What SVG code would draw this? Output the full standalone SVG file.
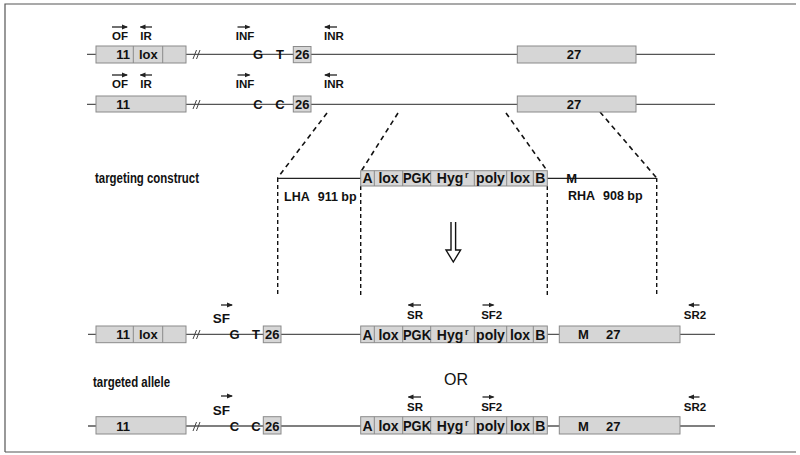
<svg xmlns="http://www.w3.org/2000/svg" width="800" height="455" viewBox="0 0 800 455">
<defs>
<style>
.ln{stroke:#555;stroke-width:1.3;fill:none}
.bx{fill:#d6d6d6;stroke:#8a8a8a;stroke-width:1}
.dv{stroke:#8a8a8a;stroke-width:1}
.t{font-family:"Liberation Sans",Arial,sans-serif;font-weight:bold;font-size:13px;fill:#111;text-anchor:middle}
.tc{font-family:"Liberation Sans",Arial,sans-serif;font-weight:bold;font-size:14px;fill:#111;text-anchor:middle}
.p{font-family:"Liberation Sans",Arial,sans-serif;font-weight:bold;font-size:11.5px;fill:#111;text-anchor:middle}
.sf{font-size:13.5px}
.sup{font-family:"Liberation Sans",Arial,sans-serif;font-weight:bold;font-size:9px;fill:#111}
.lb{font-family:"Liberation Sans",Arial,sans-serif;font-weight:bold;font-size:14px;fill:#111}
.sm{font-family:"Liberation Sans",Arial,sans-serif;font-weight:bold;font-size:12.5px;fill:#111}
.sl{stroke:#444;stroke-width:1}
.ar{stroke:#222;stroke-width:1.3;fill:none;marker-end:url(#ah)}
.dsh{stroke:#111;stroke-width:1.4;stroke-dasharray:4,3;fill:none}
.dgl{stroke:#111;stroke-width:1.6;stroke-dasharray:5,4;fill:none}
</style>
<marker id="ah" markerUnits="userSpaceOnUse" markerWidth="6" markerHeight="6" refX="5" refY="3" orient="auto"><path d="M0,0.5 L6,3 L0,5.5 z" fill="#222"/></marker>
</defs>
<rect x="0" y="0" width="800" height="455" fill="#fff"/>
<path d="M5,452 V4 H796 M5,452 H796" stroke="#555" stroke-width="1.2" fill="none"/>

<g id="connectors">
<path class="dgl" d="M327,113 L277.5,178"/>
<path class="dgl" d="M398,113 L360.7,172"/>
<path class="dgl" d="M506,113 L547.3,171"/>
<path class="dgl" d="M600,112 L656.7,178"/>
<path class="dsh" d="M277.7,178 V297"/>
<path class="dsh" d="M360.7,186 V297"/>
<path class="dsh" d="M547.3,186 V297"/>
<path class="dsh" d="M656.7,178 V297"/>
<path d="M451,222 V250 H446 L453.3,262 L460.6,250 H455.6 V222" fill="#fff" stroke="#111" stroke-width="1.4"/>
</g>

<g id="wt-allele-1">
<line class="ln" x1="87" y1="54.3" x2="715" y2="54.3"/>
<rect class="bx" x="96" y="46" width="90" height="17"/>
<line class="dv" x1="133.3" y1="46" x2="133.3" y2="63"/>
<line class="dv" x1="162.7" y1="46" x2="162.7" y2="63"/>
<text class="t" x="123" y="59">11</text>
<text class="t" x="148.3" y="59">lox</text>
<path class="sl" d="M193,59 L196.5,50 M196.5,59 L200,50"/>
<text class="t" x="258" y="59">G</text>
<text class="t" x="280" y="59">T</text>
<rect class="bx" x="293.3" y="46.5" width="17.7" height="16.2"/>
<text class="t" x="302.2" y="59">26</text>
<rect class="bx" x="517.3" y="46" width="118.7" height="17"/>
<text class="t" x="574" y="59">27</text>
<line class="ar" x1="112" y1="27" x2="127" y2="27"/>
<text class="p" x="120" y="40">OF</text>
<line class="ar" x1="152" y1="27" x2="140.5" y2="27"/>
<text class="p" x="146" y="40">IR</text>
<line class="ar" x1="237.5" y1="27" x2="249.5" y2="27"/>
<text class="p" x="245" y="40">INF</text>
<line class="ar" x1="337" y1="27" x2="325" y2="27"/>
<text class="p" x="334" y="40">INR</text>
</g>

<g id="wt-allele-2">
<line class="ln" x1="87" y1="104.3" x2="715" y2="104.3"/>
<rect class="bx" x="96" y="96" width="90" height="16"/>
<text class="t" x="123" y="109">11</text>
<path class="sl" d="M193,109 L196.5,100 M196.5,109 L200,100"/>
<text class="t" x="258" y="109">C</text>
<text class="t" x="280" y="109">C</text>
<rect class="bx" x="293.3" y="96" width="17.7" height="16"/>
<text class="t" x="302.2" y="109">26</text>
<rect class="bx" x="517.3" y="96" width="118.7" height="16"/>
<text class="t" x="574" y="109">27</text>
<line class="ar" x1="112" y1="75" x2="127" y2="75"/>
<text class="p" x="120" y="88.3">OF</text>
<line class="ar" x1="152" y1="75" x2="140.5" y2="75"/>
<text class="p" x="146" y="88.3">IR</text>
<line class="ar" x1="237.5" y1="75" x2="249.5" y2="75"/>
<text class="p" x="245" y="88.3">INF</text>
<line class="ar" x1="337" y1="75" x2="325" y2="75"/>
<text class="p" x="334" y="88.3">INR</text>
</g>

<g id="targeting-construct">
<text class="lb" x="95" y="183.3" textLength="104" lengthAdjust="spacingAndGlyphs">targeting construct</text>
<line class="ln" x1="277.7" y1="178.3" x2="656.7" y2="178.3" style="stroke:#222"/>
<rect class="bx" x="360.7" y="170.7" width="186.6" height="15.3"/>
<line class="dv" x1="374.3" y1="170.7" x2="374.3" y2="186"/>
<line class="dv" x1="402.7" y1="170.7" x2="402.7" y2="186"/>
<line class="dv" x1="430.7" y1="170.7" x2="430.7" y2="186"/>
<line class="dv" x1="474.3" y1="170.7" x2="474.3" y2="186"/>
<line class="dv" x1="506.7" y1="170.7" x2="506.7" y2="186"/>
<line class="dv" x1="533.3" y1="170.7" x2="533.3" y2="186"/>
<text class="tc" x="367.5" y="183.2">A</text>
<text class="tc" x="388.5" y="183.2">lox</text>
<text class="tc" x="417" y="183.2" textLength="28" lengthAdjust="spacingAndGlyphs">PGK</text>
<text class="tc" x="450" y="183.2">Hyg</text>
<text class="sup" x="465" y="178">r</text>
<text class="tc" x="490.5" y="183.2">poly</text>
<text class="tc" x="520" y="183.2">lox</text>
<text class="tc" x="540.3" y="183.2">B</text>
<text class="t" x="571.7" y="183">M</text>
<text class="sm" x="284" y="200.7">LHA</text>
<text class="sm" x="317.7" y="200.7">911 bp</text>
<text class="sm" x="568" y="200.3">RHA</text>
<text class="sm" x="603" y="200.3">908 bp</text>
</g>

<g id="targeted-allele-1">
<line class="ln" x1="88" y1="334.3" x2="715" y2="334.3"/>
<rect class="bx" x="96" y="326" width="90" height="16.7"/>
<line class="dv" x1="133.3" y1="326" x2="133.3" y2="342.7"/>
<line class="dv" x1="162.7" y1="326" x2="162.7" y2="342.7"/>
<text class="t" x="123" y="339">11</text>
<text class="t" x="148.3" y="339">lox</text>
<path class="sl" d="M193,339 L196.5,330 M196.5,339 L200,330"/>
<text class="t" x="234.5" y="339">G</text>
<text class="t" x="256" y="339">T</text>
<rect class="bx" x="263.3" y="326" width="17.7" height="16.7"/>
<text class="t" x="272.2" y="339">26</text>
<rect class="bx" x="360.7" y="326" width="186.6" height="16.7"/>
<line class="dv" x1="374.3" y1="326" x2="374.3" y2="342.7"/>
<line class="dv" x1="402.7" y1="326" x2="402.7" y2="342.7"/>
<line class="dv" x1="430.7" y1="326" x2="430.7" y2="342.7"/>
<line class="dv" x1="474.3" y1="326" x2="474.3" y2="342.7"/>
<line class="dv" x1="506.7" y1="326" x2="506.7" y2="342.7"/>
<line class="dv" x1="533.3" y1="326" x2="533.3" y2="342.7"/>
<text class="tc" x="367.5" y="339.6">A</text>
<text class="tc" x="388.5" y="339.6">lox</text>
<text class="tc" x="417" y="339.6" textLength="28" lengthAdjust="spacingAndGlyphs">PGK</text>
<text class="tc" x="450" y="339.6">Hyg</text>
<text class="sup" x="465" y="334.5">r</text>
<text class="tc" x="490.5" y="339.6">poly</text>
<text class="tc" x="520" y="339.6">lox</text>
<text class="tc" x="540.3" y="339.6">B</text>
<rect class="bx" x="559.3" y="326" width="120.7" height="16.7"/>
<text class="t" x="583.3" y="339">M</text>
<text class="t" x="613.3" y="339">27</text>
<line class="ar" x1="221" y1="305" x2="232" y2="305"/>
<text class="p sf" x="221.5" y="323">SF</text>
<line class="ar" x1="421" y1="305" x2="408.5" y2="305"/>
<text class="p" x="415" y="319">SR</text>
<line class="ar" x1="482.5" y1="305" x2="493.5" y2="305"/>
<text class="p" x="491.7" y="319">SF2</text>
<line class="ar" x1="699.5" y1="305" x2="689" y2="305"/>
<text class="p" x="695" y="319">SR2</text>
</g>

<text class="lb" x="93" y="386.7" textLength="77" lengthAdjust="spacingAndGlyphs">targeted allele</text>
<text x="456" y="384.5" style="font-family:'Liberation Sans',Arial,sans-serif;font-size:16px;fill:#111;text-anchor:middle">OR</text>

<g id="targeted-allele-2">
<line class="ln" x1="88" y1="426" x2="715" y2="426"/>
<rect class="bx" x="96" y="416.7" width="90" height="17.3"/>
<text class="t" x="123" y="430.5">11</text>
<path class="sl" d="M193,431 L196.5,422 M196.5,431 L200,422"/>
<text class="t" x="234.5" y="430.5">C</text>
<text class="t" x="256" y="430.5">C</text>
<rect class="bx" x="263.3" y="416.7" width="17.7" height="17.3"/>
<text class="t" x="272.2" y="430.5">26</text>
<rect class="bx" x="360.7" y="416.7" width="186.6" height="17.3"/>
<line class="dv" x1="374.3" y1="416.7" x2="374.3" y2="434"/>
<line class="dv" x1="402.7" y1="416.7" x2="402.7" y2="434"/>
<line class="dv" x1="430.7" y1="416.7" x2="430.7" y2="434"/>
<line class="dv" x1="474.3" y1="416.7" x2="474.3" y2="434"/>
<line class="dv" x1="506.7" y1="416.7" x2="506.7" y2="434"/>
<line class="dv" x1="533.3" y1="416.7" x2="533.3" y2="434"/>
<text class="tc" x="367.5" y="430.8">A</text>
<text class="tc" x="388.5" y="430.8">lox</text>
<text class="tc" x="417" y="430.8" textLength="28" lengthAdjust="spacingAndGlyphs">PGK</text>
<text class="tc" x="450" y="430.8">Hyg</text>
<text class="sup" x="465" y="425.5">r</text>
<text class="tc" x="490.5" y="430.8">poly</text>
<text class="tc" x="520" y="430.8">lox</text>
<text class="tc" x="540.3" y="430.8">B</text>
<rect class="bx" x="559.3" y="416.7" width="120.7" height="17.3"/>
<text class="t" x="583.3" y="430.5">M</text>
<text class="t" x="613.3" y="430.5">27</text>
<line class="ar" x1="221" y1="396" x2="232" y2="396"/>
<text class="p sf" x="221.5" y="415">SF</text>
<line class="ar" x1="421" y1="397" x2="408.5" y2="397"/>
<text class="p" x="415" y="410.7">SR</text>
<line class="ar" x1="482.5" y1="397" x2="493.5" y2="397"/>
<text class="p" x="491.7" y="410.7">SF2</text>
<line class="ar" x1="699.5" y1="397" x2="689" y2="397"/>
<text class="p" x="695" y="410.7">SR2</text>
</g>
</svg>
